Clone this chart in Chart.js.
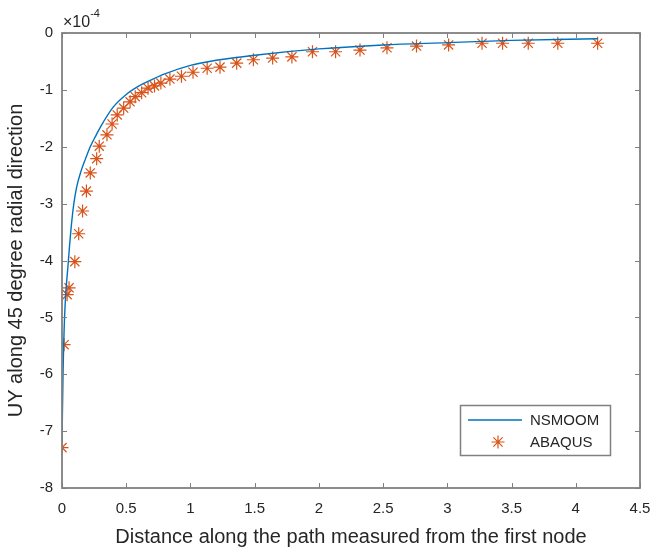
<!DOCTYPE html>
<html>
<head>
<meta charset="utf-8">
<script src="https://cdn.jsdelivr.net/npm/chart.js"></script>
<style>
  html, body { margin: 0; padding: 0; background: #fff; }
  #wrap { width: 654px; height: 550px; position: relative; }
</style>
</head>
<body>
<div id="wrap"><canvas id="chart-uy" width="654" height="550"></canvas></div>
<script>
// NSMOOM curve (UY in units of 1e-4)
const nsmoomX = [0, 0.008, 0.02, 0.05, 0.068, 0.092, 0.115, 0.145, 0.185, 0.22, 0.265, 0.3, 0.4, 0.5, 0.6, 0.7, 0.8, 1.0, 1.2, 1.5, 2.0, 2.5, 3.0, 3.5, 4.17];
const nsmoomUY = [-7.2, -6.0, -5.0, -4.0, -3.5, -3.0, -2.7, -2.45, -2.2, -2.0, -1.8, -1.65, -1.3, -1.08, -0.93, -0.82, -0.72, -0.57, -0.48, -0.39, -0.28, -0.21, -0.17, -0.13, -0.10];

// ABAQUS nodes
const abaqusX = [0, 0.016, 0.04, 0.055, 0.10, 0.13, 0.16, 0.19, 0.22, 0.27, 0.29, 0.35, 0.39, 0.43, 0.48, 0.53, 0.57, 0.62, 0.67, 0.72, 0.77, 0.84, 0.93, 1.02, 1.13, 1.23, 1.36, 1.49, 1.64, 1.79, 1.95, 2.13, 2.32, 2.53, 2.76, 3.01, 3.27, 3.43, 3.63, 3.86, 4.17];
const abaqusUY = [-7.29, -5.48, -4.6, -4.48, -4.02, -3.53, -3.13, -2.78, -2.46, -2.21, -1.99, -1.79, -1.60, -1.44, -1.32, -1.21, -1.12, -1.05, -0.97, -0.93, -0.88, -0.81, -0.76, -0.69, -0.62, -0.60, -0.53, -0.47, -0.44, -0.42, -0.33, -0.33, -0.30, -0.26, -0.23, -0.21, -0.18, -0.18, -0.18, -0.18, -0.18];

const xTicks = [0, 0.5, 1, 1.5, 2, 2.5, 3, 3.5, 4, 4.5];
const yTicks = [0, -1, -2, -3, -4, -5, -6, -7, -8];

const textColor = '#262626';
const axisColor = '#808080';
const fontFamily = '"Liberation Sans", Arial, sans-serif';

// box, inner ticks, exponent and legend
const frame = {
  id: 'frame',
  afterDraw(chart) {
    const ctx = chart.ctx;
    const a = chart.chartArea;
    const xs = chart.scales.x, ys = chart.scales.y;
    ctx.save();
    ctx.strokeStyle = axisColor;
    ctx.lineWidth = 1.8;
    ctx.strokeRect(a.left, a.top, a.right - a.left, a.bottom - a.top);
    ctx.lineWidth = 1;
    xTicks.forEach(v => {
      const px = Math.round(xs.getPixelForValue(v)) + 0.5;
      ctx.beginPath();
      ctx.moveTo(px, a.bottom); ctx.lineTo(px, a.bottom - 5);
      ctx.moveTo(px, a.top); ctx.lineTo(px, a.top + 5);
      ctx.stroke();
    });
    yTicks.forEach(v => {
      const py = Math.round(ys.getPixelForValue(v)) + 0.5;
      ctx.beginPath();
      ctx.moveTo(a.left, py); ctx.lineTo(a.left + 5, py);
      ctx.moveTo(a.right, py); ctx.lineTo(a.right - 5, py);
      ctx.stroke();
    });

    // exponent
    ctx.fillStyle = textColor;
    ctx.textBaseline = 'alphabetic';
    ctx.textAlign = 'left';
    ctx.font = '16px ' + fontFamily;
    ctx.fillText('\u00d710', a.left + 1, a.top - 6);
    const w = ctx.measureText('\u00d710').width;
    ctx.font = '11px ' + fontFamily;
    ctx.fillText('-4', a.left + 1 + w, a.top - 16);

    // legend
    const lx = 460, ly = 405, lw = 150, lh = 50;
    ctx.fillStyle = '#fff';
    ctx.fillRect(lx, ly, lw, lh);
    ctx.strokeStyle = axisColor;
    ctx.lineWidth = 1.5;
    ctx.strokeRect(lx + 0.5, ly + 0.5, lw, lh);
    ctx.strokeStyle = '#0072BD';
    ctx.lineWidth = 1.3;
    ctx.beginPath();
    ctx.moveTo(lx + 8, ly + 15); ctx.lineTo(lx + 62, ly + 15);
    ctx.stroke();
    ctx.strokeStyle = '#D95319';
    ctx.lineWidth = 1.2;
    Chart.helpers.drawPoint(ctx, { pointStyle: 'star', radius: 6.5, rotation: 0, borderWidth: 1.2 }, lx + 38, ly + 37);
    ctx.fillStyle = textColor;
    ctx.font = '15px ' + fontFamily;
    ctx.textBaseline = 'middle';
    ctx.fillText('NSMOOM', lx + 70, ly + 16);
    ctx.fillText('ABAQUS', lx + 70, ly + 38);
    ctx.restore();
  }
};

const ctx = document.getElementById('chart-uy').getContext('2d');
new Chart(ctx, {
  type: 'scatter',
  data: {
    datasets: [
      {
        label: 'NSMOOM',
        data: nsmoomX.map((x, i) => ({ x, y: nsmoomUY[i] })),
        showLine: true,
        borderColor: '#0072BD',
        borderWidth: 1.4,
        pointRadius: 0,
        cubicInterpolationMode: 'monotone'
      },
      {
        label: 'ABAQUS',
        data: abaqusX.map((x, i) => ({ x, y: abaqusUY[i] })),
        showLine: false,
        pointStyle: 'star',
        pointRadius: 6.5,
        borderColor: '#D95319',
        backgroundColor: '#D95319',
        borderWidth: 1.2
      }
    ]
  },
  options: {
    responsive: false,
    animation: false,
    layout: { padding: { top: 33, right: 14, left: 0, bottom: 0 } },
    plugins: { legend: { display: false }, tooltip: { enabled: false } },
    scales: {
      x: {
        type: 'linear', min: 0, max: 4.5,
        grid: { display: false, drawTicks: false },
        border: { display: false },
        afterBuildTicks: s => { s.ticks = xTicks.map(v => ({ value: v })); },
        afterFit: s => { s.height = 62; s.paddingRight = 0; s.paddingLeft = 0; },
        ticks: { color: textColor, font: { family: fontFamily, size: 15 }, padding: 12, maxRotation: 0, callback: v => String(v) },
        title: { display: true, text: 'Distance along the path measured from the first node', color: textColor, font: { family: fontFamily, size: 20 }, padding: { top: 0, bottom: 1 } }
      },
      y: {
        type: 'linear', min: -8, max: 0,
        grid: { display: false, drawTicks: false },
        border: { display: false },
        afterBuildTicks: s => { s.ticks = yTicks.map(v => ({ value: v })); },
        afterFit: s => { s.width = 62; s.paddingTop = 0; s.paddingBottom = 0; },
        ticks: { color: textColor, font: { family: fontFamily, size: 15 }, padding: 9, callback: v => String(v) },
        title: { display: true, text: 'UY along 45 degree radial direction', color: textColor, font: { family: fontFamily, size: 20 }, padding: { top: 4, bottom: 0 } }
      }
    }
  },
  plugins: [frame]
});
</script>
</body>
</html>
